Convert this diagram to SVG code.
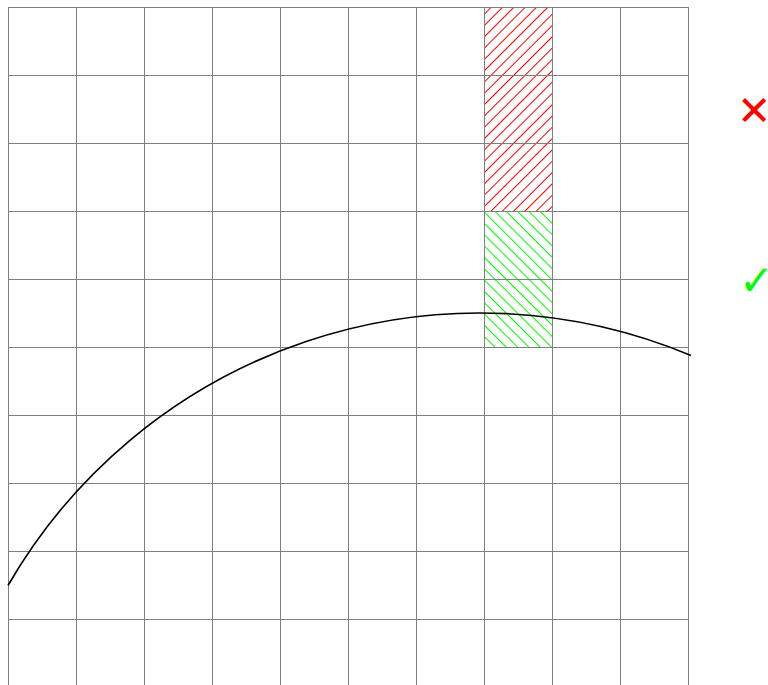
<svg xmlns="http://www.w3.org/2000/svg" width="768" height="685" viewBox="0 0 768 685">
<style>
.grid{stroke:#808080;stroke-width:1;fill:none}
.curve{stroke:#000;stroke-width:1.6;fill:none}
.sym{font-family:"DejaVu Sans",sans-serif}
</style>
<defs>
<pattern id="hred" patternUnits="userSpaceOnUse" width="8" height="8" patternTransform="rotate(45)">
<line x1="0" y1="0" x2="0" y2="8" stroke="#ff0000" stroke-width="2"/>
</pattern>
<pattern id="hgreen" patternUnits="userSpaceOnUse" width="8" height="8" patternTransform="rotate(-45)">
<line x1="0" y1="0" x2="0" y2="8" stroke="#00ff00" stroke-width="2"/>
</pattern>
</defs>
<rect width="768" height="685" fill="#fff"/>
<g id="hatch">
<rect x="484" y="7" width="68" height="204" fill="url(#hred)"/>
<rect x="484" y="211" width="68" height="136" fill="url(#hgreen)"/>
</g>
<g id="grid" class="grid">
<path d="M8.5,7V687M76.5,7V687M144.5,7V687M212.5,7V687M280.5,7V687M348.5,7V687M416.5,7V687M484.5,7V687M552.5,7V687M620.5,7V687M688.5,7V687"/>
<path d="M8,7.5H688M8,75.5H688M8,143.5H688M8,211.5H688M8,279.5H688M8,347.5H688M8,415.5H688M8,483.5H688M8,551.5H688M8,619.5H688"/>
</g>
<g id="curve">
<path class="curve" d="M8,585.5 A545,545 0 0 1 691,355.5"/>
</g>
<g id="symbols">
<text class="sym" x="737" y="125" font-size="41" fill="#ff0000">✕</text>
<text class="sym" x="739" y="295" font-size="42" fill="#00ff00">✓</text>
</g>
</svg>
